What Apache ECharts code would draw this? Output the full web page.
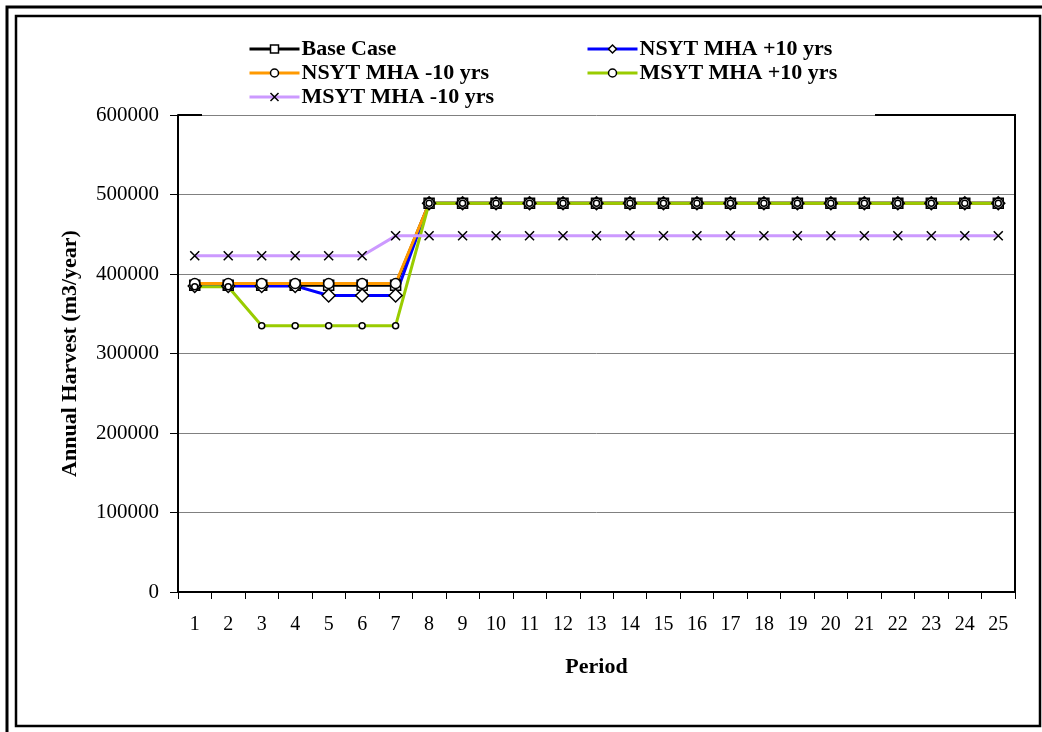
<!DOCTYPE html>
<html>
<head>
<meta charset="utf-8">
<script src="https://cdn.jsdelivr.net/npm/echarts@6/dist/echarts.min.js"></script>
<style>
  html, body { margin: 0; padding: 0; background: #fff; }
  #chart { width: 1042px; height: 732px; }
</style>
</head>
<body>
<div id="chart"></div>
<script>
// Annual harvest by planning period under five MHA sensitivity runs
const periods = ['1','2','3','4','5','6','7','8','9','10','11','12','13','14','15','16','17','18','19','20','21','22','23','24','25'];
const baseCase   = [386000,386000,386000,386000,386000,386000,386000,489000,489000,489000,489000,489000,489000,489000,489000,489000,489000,489000,489000,489000,489000,489000,489000,489000,489000];
const nsytPlus10 = [385000,385000,385000,385000,373000,373000,373000,489000,489000,489000,489000,489000,489000,489000,489000,489000,489000,489000,489000,489000,489000,489000,489000,489000,489000];
const nsytMinus10= [388000,388000,388000,388000,388000,388000,388000,489000,489000,489000,489000,489000,489000,489000,489000,489000,489000,489000,489000,489000,489000,489000,489000,489000,489000];
const msytPlus10 = [384000,384000,335000,335000,335000,335000,335000,489000,489000,489000,489000,489000,489000,489000,489000,489000,489000,489000,489000,489000,489000,489000,489000,489000,489000];
const msytMinus10= [423000,423000,423000,423000,423000,423000,448000,448000,448000,448000,448000,448000,448000,448000,448000,448000,448000,448000,448000,448000,448000,448000,448000,448000,448000];
const yTicks = [0, 100000, 200000, 300000, 400000, 500000, 600000];

const serif = '"Liberation Serif", "Times New Roman", serif';
const crossPath = 'path://M0,0L10,10M10,0L0,10';
const boldText = { fontFamily: serif, fontWeight: 'bold', fontSize: 22, color: '#000' };

function lineSeries(name, data, color, symbol, size, fill) {
  return {
    name: name,
    type: 'line',
    data: data,
    symbol: symbol,
    symbolSize: size,
    showAllSymbol: true,
    lineStyle: { color: color, width: 3 },
    itemStyle: { color: fill, borderColor: '#000', borderWidth: 1.5 },
    emphasis: { disabled: true },
    animation: false
  };
}

const chart = echarts.init(document.getElementById('chart'), null, { renderer: 'canvas' });
const gl = 178, gt = 115, gr = 1015, gb = 592;

const legendCommon = {
  orient: 'vertical', top: 33, itemGap: 2,
  itemWidth: 50, itemHeight: 10, z: 20,
  lineStyle: { width: 3 },
  itemStyle: { borderWidth: 1.5 },
  textStyle: Object.assign({ lineHeight: 22, padding: [0, 0, 0, -3] }, boldText)
};

chart.setOption({
  backgroundColor: '#fff',
  animation: false,
  grid: { left: gl, top: gt, right: 1042 - gr, bottom: 732 - gb, show: false },
  legend: [
    Object.assign({ data: ['Base Case', 'NSYT MHA -10 yrs', 'MSYT MHA -10 yrs'], left: 243 }, legendCommon),
    Object.assign({ data: ['NSYT MHA +10 yrs', 'MSYT MHA +10 yrs'], left: 581 }, legendCommon)
  ],
  xAxis: {
    type: 'category',
    data: periods,
    boundaryGap: true,
    name: 'Period',
    nameLocation: 'middle',
    nameGap: 64,
    nameTextStyle: boldText,
    axisLine: { lineStyle: { color: '#000', width: 2 } },
    axisTick: { show: true, alignWithLabel: false, length: 7, lineStyle: { color: '#000', width: 1 } },
    axisLabel: { fontFamily: serif, fontSize: 20, color: '#000', margin: 23, interval: 0 },
    splitLine: { show: false }
  },
  yAxis: {
    type: 'value',
    min: yTicks[0], max: yTicks[yTicks.length - 1], interval: yTicks[1] - yTicks[0],
    name: 'Annual Harvest (m3/year)',
    nameLocation: 'middle',
    nameGap: 97,
    nameTextStyle: boldText,
    axisLine: { show: true, lineStyle: { color: '#000', width: 2 } },
    axisTick: { show: true, inside: false, length: 8, lineStyle: { color: '#000', width: 1 } },
    axisLabel: { fontFamily: serif, fontSize: 21, color: '#000', margin: 19, formatter: v => String(v) },
    splitLine: { show: true, lineStyle: { color: '#808080', width: 1 } }
  },
  graphic: [
    // double frame round the whole chart
    { type: 'rect', shape: { x: 7, y: 7, width: 1100, height: 800 }, style: { fill: 'none', stroke: '#000', lineWidth: 3 }, silent: true },
    { type: 'rect', shape: { x: 16, y: 16, width: 1024, height: 710 }, style: { fill: 'none', stroke: '#000', lineWidth: 2.5 }, silent: true },
    // plot border: top and right edges, with the legend box covering part of the top
    { type: 'polyline', shape: { points: [[gl, gt], [202, gt]] }, style: { stroke: '#000', lineWidth: 2 }, silent: true, z: 5 },
    { type: 'polyline', shape: { points: [[875, gt], [gr, gt], [gr, gb]] }, style: { stroke: '#000', lineWidth: 2 }, silent: true, z: 5 }
  ],
  series: [
    lineSeries('Base Case', baseCase, '#000000', 'rect', 10, '#ffffff'),
    lineSeries('NSYT MHA +10 yrs', nsytPlus10, '#0000ff', 'diamond', 13, '#ffffff'),
    lineSeries('NSYT MHA -10 yrs', nsytMinus10, '#ff9900', 'circle', 10, '#ffffff'),
    lineSeries('MSYT MHA +10 yrs', msytPlus10, '#99cc00', 'circle', 6, '#ffffff'),
    lineSeries('MSYT MHA -10 yrs', msytMinus10, '#cc99ff', crossPath, 9, 'none')
  ]
});
</script>
</body>
</html>
